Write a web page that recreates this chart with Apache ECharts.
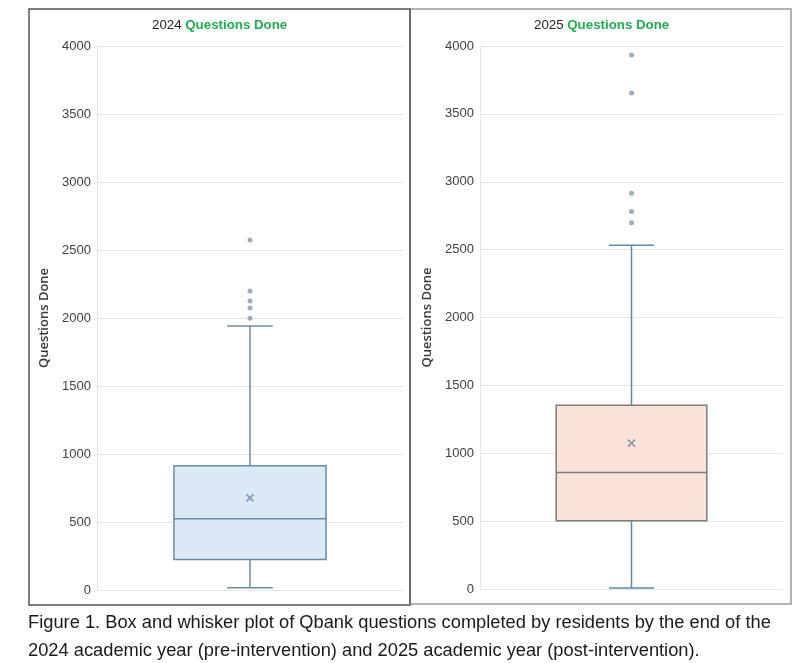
<!DOCTYPE html>
<html>
<head>
<meta charset="utf-8">
<script src="https://cdn.jsdelivr.net/npm/echarts@6/dist/echarts.min.js"></script>
<style>
html,body{margin:0;padding:0;background:#fff;}
#c{width:799px;height:663px;}
</style>
</head>
<body>
<div id="c"></div>
<script>
// ---- data ----
const years = ['2024', '2025'];
const stats2024 = [17, 224, 523, 913, 1941];   // min, Q1, median, Q3, max (whiskers)
const stats2025 = [7, 503, 858, 1354, 2533];
const mean2024 = 678;
const mean2025 = 1074;
const outliers2024 = [2574, 2199, 2125, 2074, 1998];
const outliers2025 = [3934, 3654, 2916, 2781, 2698];
const yTicks = [0, 500, 1000, 1500, 2000, 2500, 3000, 3500, 4000];

const chart = echarts.init(document.getElementById('c'), null, {renderer: 'canvas'});

function boxRender(fill, boxStroke, whiskerStroke) {
  return function (params, api) {
    const x = api.value(0);
    const pMin = api.coord([x, api.value(1)]);
    const pQ1 = api.coord([x, api.value(2)]);
    const pMed = api.coord([x, api.value(3)]);
    const pQ3 = api.coord([x, api.value(4)]);
    const pMax = api.coord([x, api.value(5)]);
    const band = api.size([1, 0])[0];
    const bw = band * 0.497;
    const cap = bw * 0.3;
    const cx = pMed[0];
    const ws = {stroke: whiskerStroke, lineWidth: 1.5};
    return {
      type: 'group',
      children: [
        {type: 'line', shape: {x1: cx, y1: pQ3[1], x2: cx, y2: pMax[1]}, style: ws},
        {type: 'line', shape: {x1: cx, y1: pQ1[1], x2: cx, y2: pMin[1]}, style: ws},
        {type: 'line', shape: {x1: cx - cap / 2, y1: pMax[1], x2: cx + cap / 2, y2: pMax[1]}, style: ws},
        {type: 'line', shape: {x1: cx - cap / 2, y1: pMin[1], x2: cx + cap / 2, y2: pMin[1]}, style: ws},
        {type: 'rect', shape: {x: cx - bw / 2, y: pQ3[1], width: bw, height: pQ1[1] - pQ3[1]},
          style: {fill: fill, stroke: boxStroke, lineWidth: 1.5}},
        {type: 'line', shape: {x1: cx - bw / 2, y1: pMed[1], x2: cx + bw / 2, y2: pMed[1]},
          style: {stroke: boxStroke, lineWidth: 1.5}}
      ]
    };
  };
}

function yAxisDef(idx) {
  return {
    type: 'value', gridIndex: idx, min: yTicks[0], max: yTicks[yTicks.length - 1], interval: yTicks[1] - yTicks[0],
    name: 'Questions Done', nameLocation: 'middle', nameRotate: 90, nameGap: 46,
    nameTextStyle: {color: '#3a3a3a', fontSize: 13, fontFamily: 'Open Sans', fontWeight: 600},
    axisLine: {show: true, lineStyle: {color: '#e4e4e4'}},
    axisTick: {show: false},
    axisLabel: {color: '#404040', fontSize: 13, fontFamily: 'Liberation Sans', margin: 6,
      formatter: function (v) { return String(v); }},
    splitLine: {show: true, lineStyle: {color: '#e4e4e4', width: 1}}
  };
}

function xAxisDef(idx, cat) {
  return {
    type: 'category', gridIndex: idx, data: [cat], boundaryGap: true,
    axisLine: {show: false}, axisTick: {show: false}, axisLabel: {show: false}, splitLine: {show: false}
  };
}

const crossPath = 'path://M0,0L10,10M10,0L0,10';
const titleRich = {
  a: {color: '#222', fontSize: 13.3, fontWeight: 'normal', fontFamily: 'Liberation Sans'},
  b: {color: '#1fae4f', fontSize: 13.3, fontWeight: 'bold', fontFamily: 'Liberation Sans'}
};

const option = {
  backgroundColor: '#ffffff',
  animation: false,
  title: [
    {text: '{a|' + years[0] + ' }{b|Questions Done}', left: 147, top: 14, textStyle: {rich: titleRich}},
    {text: '{a|' + years[1] + ' }{b|Questions Done}', left: 529, top: 14, textStyle: {rich: titleRich}}
  ],
  grid: [
    {left: 97, top: 46, width: 306, height: 544},
    {left: 480, top: 46, width: 303, height: 543}
  ],
  xAxis: [xAxisDef(0, years[0]), xAxisDef(1, years[1])],
  yAxis: [yAxisDef(0), yAxisDef(1)],
  series: [
    {
      type: 'custom', xAxisIndex: 0, yAxisIndex: 0,
      renderItem: boxRender('#dbe9f6', '#6b8ba2', '#6b8ba2'),
      encode: {x: 0, y: [1, 2, 3, 4, 5]},
      data: [[0].concat(stats2024)], z: 2
    },
    {
      type: 'custom', xAxisIndex: 1, yAxisIndex: 1,
      renderItem: boxRender('#f9e3d8', '#7c7c7c', '#5f8aa3'),
      encode: {x: 0, y: [1, 2, 3, 4, 5]},
      data: [[0].concat(stats2025)], z: 2
    },
    {
      type: 'scatter', xAxisIndex: 0, yAxisIndex: 0, symbol: 'circle', symbolSize: 5,
      itemStyle: {color: '#8797a8'}, data: outliers2024.map(v => [0, v]), z: 3
    },
    {
      type: 'scatter', xAxisIndex: 1, yAxisIndex: 1, symbol: 'circle', symbolSize: 5,
      itemStyle: {color: '#8797a8'}, data: outliers2025.map(v => [0, v]), z: 3
    },
    {
      type: 'scatter', xAxisIndex: 0, yAxisIndex: 0, symbol: crossPath, symbolSize: 7,
      itemStyle: {color: 'none', borderColor: '#6b8ba2', borderWidth: 1.8}, data: [[0, mean2024]], z: 4
    },
    {
      type: 'scatter', xAxisIndex: 1, yAxisIndex: 1, symbol: crossPath, symbolSize: 7,
      itemStyle: {color: 'none', borderColor: '#7c8a96', borderWidth: 1.8}, data: [[0, mean2025]], z: 4
    }
  ],
  graphic: [
    {type: 'rect', shape: {x: 29, y: 9, width: 381, height: 596},
      style: {fill: 'none', stroke: '#555', lineWidth: 1.5}, z: 10},
    {type: 'rect', shape: {x: 410, y: 9, width: 381, height: 595},
      style: {fill: 'none', stroke: '#9a9a9a', lineWidth: 1.5}, z: 9},
    {type: 'text', x: 28, y: 614,
      style: {text: 'Figure 1. Box and whisker plot of Qbank questions completed by residents by the end of the',
        fill: '#1a1a1a', font: '18.3px "Liberation Sans", sans-serif'}},
    {type: 'text', x: 28, y: 642,
      style: {text: '2024 academic year (pre-intervention) and 2025 academic year (post-intervention).',
        fill: '#1a1a1a', font: '18.3px "Liberation Sans", sans-serif'}}
  ]
};
chart.setOption(option);
</script>
</body>
</html>
